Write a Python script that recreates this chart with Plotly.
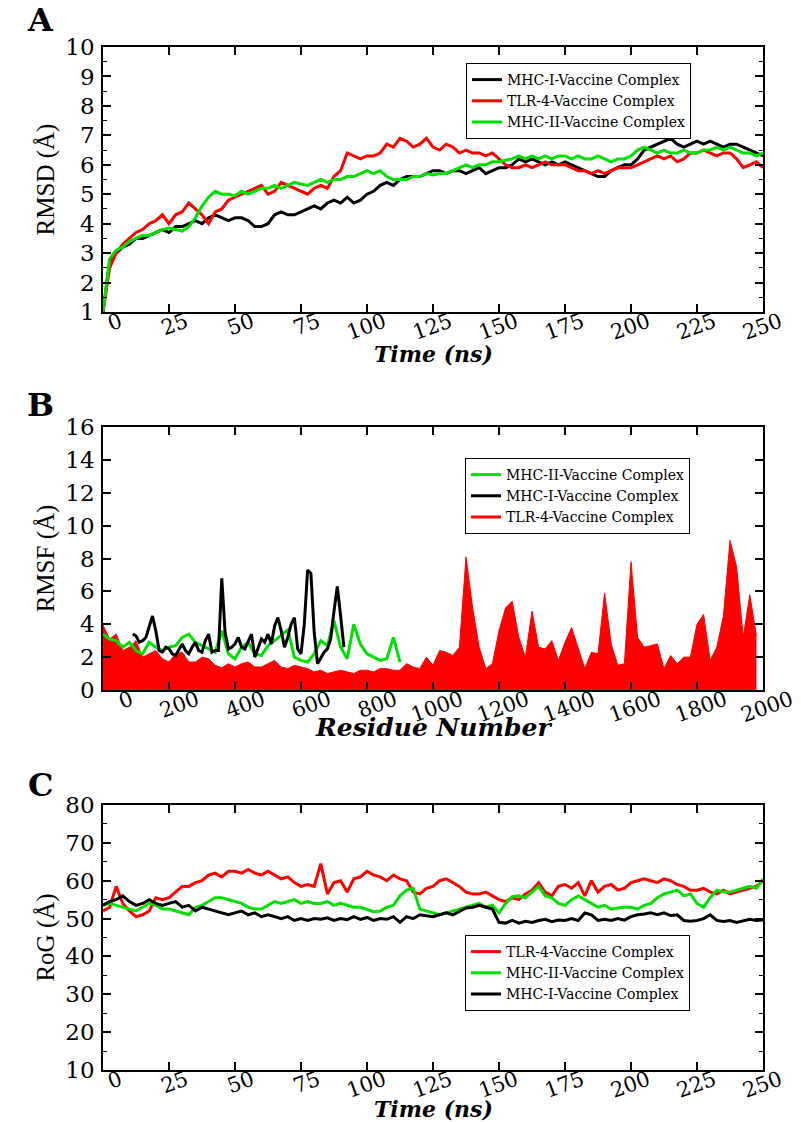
import plotly.graph_objects as go

# ---------------- Panel A: RMSD (time step 2.5 ns) ----------------
time_ns = [i * 2.5 for i in range(101)]

rmsd_mhc1 = [1.0, 2.7, 3.0, 3.2, 3.3, 3.5, 3.5, 3.6, 3.7, 3.8,
             3.7, 3.9, 3.9, 4.0, 4.1, 4.0, 4.2, 4.3, 4.2, 4.1,
             4.2, 4.2, 4.1, 3.9, 3.9, 4.0, 4.3, 4.4, 4.3, 4.3,
             4.4, 4.5, 4.6, 4.5, 4.7, 4.8, 4.7, 4.9, 4.7, 4.8,
             5.0, 5.1, 5.3, 5.4, 5.3, 5.5, 5.6, 5.6, 5.6, 5.7,
             5.8, 5.8, 5.7, 5.8, 5.8, 5.7, 5.8, 5.9, 5.7, 5.8,
             5.9, 5.9, 6.0, 6.2, 6.1, 6.2, 6.1, 6.0, 6.1, 6.0,
             6.1, 6.0, 5.9, 5.8, 5.7, 5.6, 5.6, 5.8, 5.9, 6.0,
             6.0, 6.2, 6.5, 6.6, 6.7, 6.8, 6.9, 6.7, 6.6, 6.7,
             6.8, 6.7, 6.8, 6.7, 6.6, 6.7, 6.7, 6.6, 6.5, 6.4,
             6.3]
rmsd_tlr4 = [1.0, 2.5, 3.0, 3.3, 3.5, 3.7, 3.8, 4.0, 4.1, 4.3,
             4.0, 4.3, 4.4, 4.7, 4.5, 4.3, 4.0, 4.4, 4.5, 4.8,
             4.9, 5.0, 5.1, 5.2, 5.3, 5.0, 5.1, 5.4, 5.3, 5.2,
             5.1, 5.0, 5.2, 5.3, 5.2, 5.6, 5.8, 6.4, 6.3, 6.2,
             6.3, 6.3, 6.4, 6.7, 6.6, 6.9, 6.8, 6.6, 6.7, 6.9,
             6.6, 6.5, 6.7, 6.6, 6.4, 6.5, 6.4, 6.4, 6.3, 6.4,
             6.2, 6.0, 5.9, 5.9, 6.0, 5.9, 6.0, 6.1, 6.0, 6.0,
             6.0, 5.9, 5.8, 5.8, 5.7, 5.8, 5.7, 5.8, 5.9, 5.9,
             5.9, 6.0, 6.1, 6.2, 6.3, 6.2, 6.3, 6.1, 6.2, 6.4,
             6.4, 6.5, 6.4, 6.3, 6.4, 6.4, 6.2, 5.9, 6.0, 6.1,
             5.9]
rmsd_mhc2 = [1.0, 2.8, 3.1, 3.2, 3.4, 3.5, 3.6, 3.6, 3.7, 3.8,
             3.85, 3.8, 3.75, 3.9, 4.2, 4.6, 4.9, 5.1, 5.0, 5.0,
             4.95, 5.1, 5.0, 5.1, 5.2, 5.2, 5.3, 5.2, 5.3, 5.4,
             5.35, 5.3, 5.4, 5.5, 5.4, 5.5, 5.5, 5.6, 5.6, 5.7,
             5.8, 5.7, 5.8, 5.6, 5.5, 5.5, 5.5, 5.6, 5.6, 5.7,
             5.65, 5.7, 5.7, 5.8, 5.9, 6.0, 5.9, 6.0, 6.0, 6.1,
             6.1, 6.15, 6.2, 6.3, 6.2, 6.3, 6.2, 6.3, 6.2, 6.3,
             6.3, 6.2, 6.3, 6.2, 6.2, 6.3, 6.2, 6.1, 6.2, 6.2,
             6.3, 6.5, 6.6, 6.5, 6.4, 6.5, 6.4, 6.4, 6.5, 6.4,
             6.4, 6.5, 6.5, 6.6, 6.5, 6.6, 6.5, 6.4, 6.4, 6.3,
             6.4]

# ---------------- Panel B: RMSF ----------------
res_tlr4 = [i * 20 for i in range(100)]
rmsf_tlr4 = [3.95, 3.1, 3.4, 2.4, 2.6, 3.0, 2.0, 2.2, 2.4, 1.9,
             1.7, 2.2, 2.3, 1.7, 1.7, 2.0, 1.9, 1.5, 1.35, 1.6,
             1.4, 1.6, 1.7, 1.4, 1.4, 1.6, 1.8, 1.4, 1.3, 1.5,
             1.4, 1.3, 1.1, 1.2, 1.0, 1.1, 1.2, 1.1, 1.0, 1.2,
             1.2, 1.1, 1.3, 1.3, 1.2, 1.2, 1.6, 1.4, 1.3, 2.0,
             1.5, 2.4, 2.3, 2.1, 2.6, 8.1, 5.0, 2.6, 1.3, 1.6,
             3.6, 5.0, 5.4, 3.2, 2.0, 4.8, 2.6, 2.5, 3.0, 1.8,
             2.9, 3.8, 2.6, 1.3, 2.3, 2.2, 5.9, 2.8, 1.5, 1.6,
             7.8, 3.2, 2.6, 2.7, 2.8, 1.3, 2.1, 1.6, 2.0, 2.0,
             4.0, 4.6, 1.8, 2.6, 4.5, 9.1, 7.5, 3.2, 5.8, 3.3]
res_mhc2 = [i * 20 for i in range(46)]
rmsf_mhc2 = [3.4, 3.1, 3.0, 2.6, 2.9, 2.4, 2.2, 2.9, 2.6, 2.4,
             2.6, 2.7, 3.2, 3.4, 2.9, 2.7, 2.5, 2.3, 3.6, 2.2,
             1.9, 2.6, 2.9, 2.2, 2.1, 2.7, 3.0, 3.3, 3.65, 2.0,
             1.8, 1.7, 2.2, 3.0, 2.7, 4.2, 2.6, 1.9, 4.0, 2.8,
             2.2, 2.0, 1.8, 1.9, 3.2, 1.7]
res_mhc1 = [90 + i * 10 for i in range(65)]
rmsf_mhc1 = [3.4, 3.3, 2.9, 3.0, 3.2, 3.8, 4.5, 3.6, 2.4, 2.3,
             2.6, 2.5, 2.2, 2.1, 2.5, 2.8, 2.4, 2.2, 2.6, 2.9,
             2.4, 2.3, 3.0, 3.4, 2.3, 2.4, 2.4, 6.8, 3.5, 2.5,
             2.6, 2.8, 3.2, 2.6, 2.5, 2.9, 3.4, 2.0, 2.6, 3.1,
             2.9, 3.4, 2.8, 3.9, 4.4, 3.6, 2.6, 3.2, 4.0, 4.4,
             2.5, 2.2, 4.0, 7.3, 7.1, 3.5, 1.6, 2.0, 2.3, 2.5,
             3.1, 4.8, 6.3, 4.5, 2.6]

# ---------------- Panel C: RoG (time step 2.5 ns) ----------------
rog_mhc1 = [53.5, 54.5, 55.0, 56.0, 54.5, 53.5, 54.0, 55.0, 54.0, 53.5,
            54.0, 54.5, 53.0, 53.5, 52.0, 53.0, 52.5, 52.0, 51.5, 51.0,
            51.5, 52.0, 51.0, 51.5, 50.5, 51.0, 50.5, 50.0, 50.5, 49.5,
            50.0, 49.5, 50.0, 49.8, 50.2, 49.5, 50.0, 49.7, 50.5, 49.8,
            50.3, 49.5, 50.0, 49.8, 50.5, 49.0, 50.5, 50.0, 51.0, 50.8,
            50.5, 51.0, 51.5, 51.0, 52.0, 52.8, 53.0, 53.5, 53.0, 52.5,
            49.0, 48.8, 49.5, 48.8, 49.3, 49.0, 49.5, 49.8, 49.2, 49.6,
            49.5, 50.0, 49.5, 51.5, 51.0, 49.5, 49.8, 49.5, 50.0, 49.6,
            50.5, 51.0, 51.2, 51.5, 51.0, 51.5, 50.8, 51.0, 49.5, 49.3,
            49.5, 50.0, 51.0, 49.5, 49.2, 49.5, 49.0, 49.3, 49.8, 49.5,
            49.6]
rog_tlr4 = [52.0, 53.0, 58.5, 54.0, 52.0, 50.5, 51.0, 52.0, 55.5, 55.0,
            55.5, 57.0, 58.5, 58.5, 59.5, 60.0, 61.5, 62.0, 61.0, 62.5,
            62.5, 62.0, 63.0, 62.0, 61.5, 62.5, 61.5, 60.5, 61.0, 59.5,
            58.5, 59.0, 58.5, 64.5, 56.5, 59.5, 60.0, 57.0, 60.5, 61.0,
            62.5, 61.5, 61.0, 60.0, 61.5, 60.5, 60.0, 57.0, 56.5, 58.0,
            58.5, 60.0, 60.5, 59.5, 58.5, 57.0, 56.5, 56.5, 57.0, 56.0,
            55.0, 54.5, 55.5, 55.0, 56.5, 57.5, 59.5, 57.0, 56.0, 58.5,
            59.0, 58.0, 59.5, 56.0, 60.0, 57.0, 58.5, 59.0, 57.5, 58.0,
            59.5, 60.0, 60.5, 60.0, 59.5, 60.5, 60.0, 59.0, 58.5, 57.5,
            57.5, 58.0, 57.0, 56.5, 57.5, 56.5, 57.0, 57.5, 58.0, 58.5,
            60.0]
rog_mhc2 = [53.5, 54.0, 53.5, 53.0, 52.5, 52.0, 53.0, 54.0, 53.5, 52.5,
            52.5, 52.0, 51.5, 51.0, 53.0, 53.5, 54.5, 55.5, 55.5, 55.0,
            54.5, 54.0, 53.0, 52.5, 52.5, 53.5, 54.5, 54.0, 54.5, 55.0,
            54.0, 54.5, 54.0, 54.0, 54.5, 53.5, 54.0, 53.5, 53.0, 53.0,
            52.5, 51.8, 52.0, 53.0, 53.5, 56.0, 57.5, 58.0, 52.5, 52.0,
            51.5, 51.0, 51.5, 52.0, 52.5, 53.0, 53.5, 54.0, 53.0, 53.5,
            51.5, 54.0, 55.8, 56.0, 55.5, 57.0, 58.5, 56.0, 55.5, 54.0,
            53.5, 55.0, 56.0, 55.0, 54.0, 53.0, 53.5, 52.5, 52.8, 53.0,
            53.0, 52.5, 53.5, 54.0, 55.5, 56.5, 57.0, 57.5, 56.0, 56.5,
            54.0, 53.0, 55.5, 57.5, 57.0, 57.0, 57.5, 58.0, 58.5, 58.0,
            60.5]

NAME_MHC1 = "MHC-I-Vaccine Complex"
NAME_MHC2 = "MHC-II-Vaccine Complex"
NAME_TLR4 = "TLR-4-Vaccine Complex"
RED, GREEN, BLACK = "#ff0000", "#00e000", "#000000"

fig = go.Figure()

# Panel A
fig.add_trace(go.Scatter(x=time_ns, y=rmsd_mhc1, name=NAME_MHC1, mode="lines",
                         line=dict(color=BLACK, width=3), xaxis="x", yaxis="y",
                         legend="legend", legendrank=1))
fig.add_trace(go.Scatter(x=time_ns, y=rmsd_tlr4, name=NAME_TLR4, mode="lines",
                         line=dict(color=RED, width=3), xaxis="x", yaxis="y",
                         legend="legend", legendrank=2))
fig.add_trace(go.Scatter(x=time_ns, y=rmsd_mhc2, name=NAME_MHC2, mode="lines",
                         line=dict(color=GREEN, width=3), xaxis="x", yaxis="y",
                         legend="legend", legendrank=3))

# Panel B
fig.add_trace(go.Scatter(x=res_tlr4, y=rmsf_tlr4, name=NAME_TLR4, mode="lines",
                         line=dict(color=RED, width=1), fill="tozeroy", fillcolor=RED,
                         xaxis="x2", yaxis="y2", showlegend=False))
fig.add_trace(go.Scatter(x=res_mhc2, y=rmsf_mhc2, name=NAME_MHC2, mode="lines",
                         line=dict(color=GREEN, width=3), xaxis="x2", yaxis="y2",
                         legend="legend2", legendrank=1))
fig.add_trace(go.Scatter(x=res_mhc1, y=rmsf_mhc1, name=NAME_MHC1, mode="lines",
                         line=dict(color=BLACK, width=3), xaxis="x2", yaxis="y2",
                         legend="legend2", legendrank=2))
# legend-only entry (line sample) for the filled TLR-4 trace
fig.add_trace(go.Scatter(x=[None], y=[None], name=NAME_TLR4, mode="lines",
                         line=dict(color=RED, width=3), xaxis="x2", yaxis="y2",
                         legend="legend2", legendrank=3))

# Panel C
fig.add_trace(go.Scatter(x=time_ns, y=rog_tlr4, name=NAME_TLR4, mode="lines",
                         line=dict(color=RED, width=3), xaxis="x3", yaxis="y3",
                         legend="legend3", legendrank=1))
fig.add_trace(go.Scatter(x=time_ns, y=rog_mhc2, name=NAME_MHC2, mode="lines",
                         line=dict(color=GREEN, width=3), xaxis="x3", yaxis="y3",
                         legend="legend3", legendrank=2))
fig.add_trace(go.Scatter(x=time_ns, y=rog_mhc1, name=NAME_MHC1, mode="lines",
                         line=dict(color=BLACK, width=3), xaxis="x3", yaxis="y3",
                         legend="legend3", legendrank=3))

W, H = 801, 1122
def xd(a, b):
    return [a / W, b / W]
def yd(top, bottom):
    return [1 - bottom / H, 1 - top / H]

YTICKFONT = dict(family="DejaVu Serif", size=23, color="black")
XTICKFONT = dict(family="DejaVu Serif", size=21, color="black")
YTITLE = dict(family="Liberation Serif", size=25, color="black")

def xaxis(rng, dtick, anchor, shift):
    return dict(domain=xd(103, 763), range=rng, dtick=dtick, tick0=0,
                anchor=anchor, showgrid=False, zeroline=False, automargin=False,
                showline=True, linecolor="black", linewidth=1.5, mirror="ticks",
                ticks="inside", ticklen=8, tickwidth=1.5, tickcolor="black",
                tickangle=-20, tickfont=XTICKFONT, ticklabelstandoff=-12,
                ticklabelshift=shift)

def yaxis(top, bottom, rng, dtick, minor, title, anchor):
    d = dict(domain=yd(top, bottom), range=rng, dtick=dtick, tick0=0,
             anchor=anchor, showgrid=False, zeroline=False, automargin=False,
             showline=True, linecolor="black", linewidth=1.5, mirror="ticks",
             ticks="inside", ticklen=8, tickwidth=1.5, tickcolor="black",
             tickfont=YTICKFONT, ticklabelstandoff=2,
             title=dict(text=title, font=YTITLE, standoff=4))
    if minor:
        d["minor"] = dict(dtick=minor, ticks="inside", ticklen=4, tickwidth=1,
                          tickcolor="black", showgrid=False)
    return d

LEGFONT = dict(family="DejaVu Serif", size=14, color="black")
def legend(xpx, ypx):
    return dict(x=xpx / W, y=1 - ypx / H, xanchor="left", yanchor="top",
                bgcolor="white", bordercolor="black", borderwidth=1,
                font=LEGFONT, tracegroupgap=0, traceorder="normal",
                itemwidth=30)

fig.update_layout(
    width=W, height=H,
    margin=dict(l=0, r=0, t=0, b=0, autoexpand=False),
    paper_bgcolor="white", plot_bgcolor="white",
    xaxis=xaxis([0, 250], 25, "y", 17),
    yaxis=yaxis(47, 312, [1, 10], 1, 0.5, "RMSD (Å)", "x"),
    xaxis2=xaxis([0, 2000], 200, "y2", 28),
    yaxis2=yaxis(427, 690, [0, 16], 2, None, "RMSF (Å)", "x2"),
    xaxis3=xaxis([0, 250], 25, "y3", 17),
    yaxis3=yaxis(805, 1070, [10, 80], 10, 5, "RoG (Å)", "x3"),
    legend=legend(466, 63),
    legend2=legend(465, 458),
    legend3=legend(465, 935),
    showlegend=True,
)

# x-axis titles (bold italic) placed under each panel
for text, ypx, size in (("Time (ns)", 354, 22), ("Residue Number", 727, 25),
                        ("Time (ns)", 1109, 22)):
    fig.add_annotation(text="<b><i>" + text + "</i></b>", xref="paper", yref="paper",
                       x=433 / W, y=1 - ypx / H, xanchor="center", yanchor="middle",
                       showarrow=False,
                       font=dict(family="DejaVu Serif", size=size, color="black"))

# panel letters
for letter, ypx in (("A", 20), ("B", 405), ("C", 785)):
    fig.add_annotation(text="<b>" + letter + "</b>", xref="paper", yref="paper",
                       x=40 / W, y=1 - ypx / H, xanchor="center", yanchor="middle",
                       showarrow=False,
                       font=dict(family="DejaVu Serif", size=32, color="black"))

fig.write_html("out.html", config={"displayModeBar": False},
               post_script="document.body.style.margin='0px';")
